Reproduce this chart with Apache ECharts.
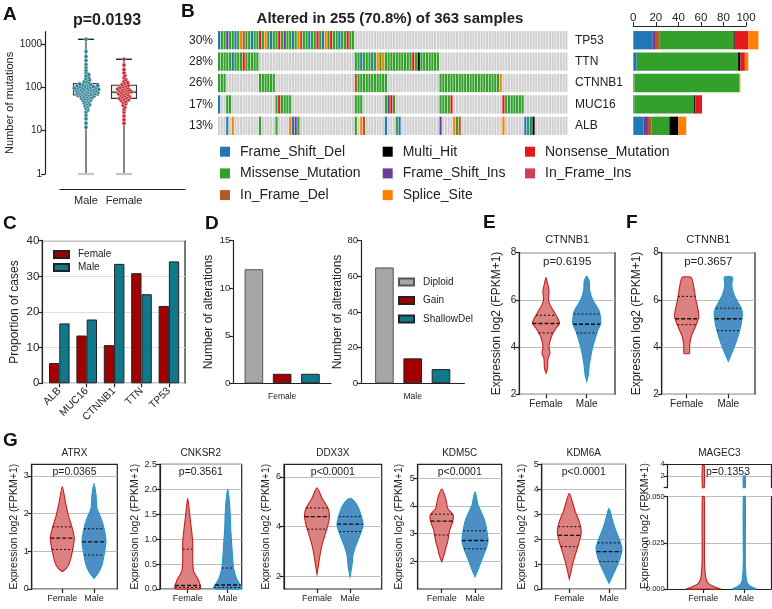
<!DOCTYPE html>
<html><head><meta charset="utf-8">
<script src="https://cdn.jsdelivr.net/npm/echarts@6/dist/echarts.min.js"></script>
<style>html,body{margin:0;padding:0;background:#fff}#c{width:772px;height:609px}</style>
</head><body><div id="c"></div>
<script>
// ================= DATA =================
// Panel A – number of mutations per sample
const sexA = ['Male', 'Female'];
const mutMale = [12, 15, 19, 23, 27, 30, 33, 36, 38, 40, 42, 44, 46, 48, 50, 51, 53, 55, 56, 58, 59, 60, 62, 63, 64, 65, 67, 68, 69, 70, 71, 72, 74, 75, 76, 77, 78, 80, 81, 82, 83, 84, 85, 86, 88, 89, 90, 91, 92, 94, 95, 96, 98, 99, 100, 102, 104, 105, 107, 109, 111, 113, 115, 118, 121, 125, 130, 136, 142, 150, 160, 172, 185, 200, 220, 250, 290, 340, 420, 520, 680, 1300];
const mutFemale = [15, 18, 22, 27, 31, 35, 39, 42, 45, 48, 50, 52, 54, 56, 58, 60, 62, 64, 66, 68, 70, 72, 74, 76, 78, 80, 82, 84, 86, 88, 90, 92, 95, 98, 101, 104, 108, 112, 117, 123, 130, 140, 152, 168, 190, 220, 260, 330, 450];
const boxMale = [1, 67, 90, 124, 1300];     // min, q1, median, q3, max
const boxFemale = [1, 56, 78, 113, 450];
const logTicksA = [1, 10, 100, 1000];
const pValueA = 'p=0.0193';

// Panel B – oncoplot
const oncoTitle = 'Altered in 255 (70.8%) of 363 samples';
const genesB = ['TP53', 'TTN', 'CTNNB1', 'MUC16', 'ALB'];
const pctB = ['30%', '28%', '26%', '17%', '13%'];
const nColumns = 128;
const mutTypes = ['Frame_Shift_Del', 'Frame_Shift_Ins', 'In_Frame_Del', 'Missense_Mutation', 'Multi_Hit', 'Nonsense_Mutation', 'In_Frame_Ins', 'Splice_Site'];
// altered sample columns (runs, missense by default)
const tp53Runs = [[0, 49]];
const ttnRuns = [[0, 14], [50, 80]];
const ctnnb1Runs = [[0, 2], [15, 20], [50, 61], [81, 103]];
const muc16Runs = [[0, 0], [3, 4], [21, 26], [50, 52], [61, 64], [81, 85], [104, 111]];
const albRuns = [[3, 3], [5, 5], [15, 15], [21, 21], [26, 29], [50, 50], [52, 53], [61, 61], [65, 66], [81, 81], [86, 88], [104, 104], [112, 115]];
// non-missense calls
const tp53Calls = [[0, 'Frame_Shift_Del'], [3, 'Frame_Shift_Ins'], [6, 'Frame_Shift_Del'], [8, 'Splice_Site'], [9, 'In_Frame_Del'], [12, 'Frame_Shift_Del'], [15, 'Nonsense_Mutation'], [17, 'Splice_Site'], [19, 'Frame_Shift_Del'], [22, 'Nonsense_Mutation'], [24, 'Frame_Shift_Ins'], [27, 'Frame_Shift_Del'], [29, 'Splice_Site'], [30, 'In_Frame_Del'], [33, 'Frame_Shift_Del'], [36, 'Nonsense_Mutation'], [38, 'Frame_Shift_Del'], [39, 'Splice_Site'], [41, 'Nonsense_Mutation'], [44, 'Frame_Shift_Del'], [47, 'Nonsense_Mutation']];
const ttnCalls = [[5, 'Frame_Shift_Del'], [9, 'Nonsense_Mutation'], [52, 'Frame_Shift_Del'], [56, 'Frame_Shift_Del'], [58, 'Splice_Site'], [60, 'Splice_Site'], [71, 'Nonsense_Mutation'], [73, 'Multi_Hit']];
const ctnnb1Calls = [[50, 'In_Frame_Del'], [103, 'Splice_Site']];
const muc16Calls = [[0, 'Frame_Shift_Del'], [22, 'Nonsense_Mutation'], [62, 'Frame_Shift_Ins'], [63, 'Nonsense_Mutation'], [85, 'Nonsense_Mutation'], [104, 'Nonsense_Mutation']];
const albCalls = [[3, 'Frame_Shift_Del'], [5, 'Splice_Site'], [26, 'Splice_Site'], [27, 'Frame_Shift_Del'], [28, 'Frame_Shift_Ins'], [52, 'Splice_Site'], [53, 'In_Frame_Del'], [61, 'Frame_Shift_Del'], [66, 'Frame_Shift_Del'], [81, 'Frame_Shift_Ins'], [86, 'Splice_Site'], [88, 'In_Frame_Del'], [104, 'Splice_Site'], [112, 'Frame_Shift_Del'], [114, 'Frame_Shift_Del'], [115, 'Multi_Hit']];
// per-gene counts by type (TP53, TTN, CTNNB1, MUC16, ALB)
const nFrameShiftDel = [17, 3, 0, 1, 9];
const nFrameShiftIns = [3, 0, 0, 0, 4];
const nInFrameDel = [3, 0, 1, 0, 3];
const nMissense = [66, 90, 93, 53, 16];
const nMultiHit = [1, 2, 0, 1, 8];
const nNonsense = [12, 4, 0, 6, 0];
const nInFrameIns = [0, 0, 0, 0, 0];
const nSplice = [9, 3, 1, 0, 7];

// Panel C
const genesC = ['ALB', 'MUC16', 'CTNNB1', 'TTN', 'TP53'];
const propFemale = [5.7, 13.4, 10.7, 30.9, 21.7];
const propMale = [16.8, 17.9, 33.5, 25.0, 34.2];

// Panel D
const cnvTypes = ['Diploid', 'Gain', 'ShallowDel'];
const cnvFemale = [12, 1, 1];
const cnvMale = [65, 14, 8];

// Panels E, F, G – violin profiles [value, relative density]; quartiles [q1, median, q3]
const violinGroups = ['Female', 'Male'];
const ctnnbE_F = [[2.9, 0], [3.1, 1.5], [3.5, 2], [3.75, 4], [4.0, 3], [4.25, 4], [4.5, 6], [4.8, 10], [5.0, 13.5], [5.2, 12], [5.5, 8], [5.8, 4], [6.0, 2.5], [6.4, 3], [6.7, 1.5], [6.95, 0]];
const ctnnbE_M = [[2.55, 0], [2.8, 1.5], [3.2, 2.5], [3.6, 4], [4.0, 6], [4.3, 8], [4.7, 11], [5.0, 14], [5.45, 13], [5.65, 11], [6.0, 6], [6.4, 3], [6.8, 2.5], [7.0, 0]];
const qE_F = [4.6, 5.0, 5.35], qE_M = [4.6, 4.97, 5.4];
const ctnnbF_F = [[3.72, 0], [3.72, 2.5], [3.8, 3], [4.1, 3], [4.45, 4.5], [4.8, 8], [5.25, 12], [5.5, 11.7], [6.0, 9.2], [6.5, 7.3], [6.95, 4.7], [6.98, 0]];
const ctnnbF_M = [[3.4, 0], [3.7, 3], [4.0, 6], [4.5, 10], [5.0, 13], [5.5, 14], [5.8, 11], [6.2, 6], [6.6, 3.5], [6.95, 4], [7.0, 0]];
const qF_F = [4.95, 5.2, 6.15], qF_M = [4.7, 5.2, 5.65];
const atrx_F = [[0.46, 0], [0.55, 4], [0.68, 7], [0.99, 10], [1.35, 12], [1.61, 10], [1.96, 6], [2.32, 3], [2.72, 0]];
const atrx_M = [[0.28, 0], [0.46, 5], [0.64, 8], [0.9, 10], [1.26, 12], [1.61, 10], [1.88, 7], [2.14, 3], [2.5, 2], [2.8, 0]];
const qAtrx_F = [1.05, 1.35, 1.65], qAtrx_M = [0.9, 1.25, 1.6];
const cnksr2_F = [[0, 0], [0, 12], [0.05, 13], [0.11, 12], [0.21, 10], [0.35, 6], [0.55, 5], [0.75, 5], [0.95, 5], [1.15, 4], [1.49, 2], [1.82, 0]];
const cnksr2_M = [[0, 0], [0, 12], [0.04, 14], [0.1, 12], [0.2, 9], [0.4, 6], [0.6, 5], [0.9, 4], [1.2, 3], [1.5, 2.5], [1.8, 1.5], [2.0, 0]];
const qCnksr2_F = [0.03, 0.07, 0.8], qCnksr2_M = [0.03, 0.08, 0.42];
const ddx3x_F = [[2.09, 0], [2.46, 1.5], [2.86, 3], [3.26, 5], [3.67, 8], [4.07, 11], [4.47, 12.5], [4.74, 11], [5.14, 5], [5.56, 0]];
const ddx3x_M = [[1.99, 0], [2.46, 2], [2.86, 3], [3.26, 6], [3.67, 10], [4.07, 13], [4.47, 11], [4.87, 7], [5.14, 0]];
const qDdx3x_F = [3.9, 4.4, 4.75], qDdx3x_M = [3.8, 4.1, 4.4];
const kdm5c_F = [[1.99, 0], [2.23, 2.5], [2.47, 4], [2.71, 6], [3.13, 8], [3.43, 11], [3.67, 11.5], [3.91, 6], [4.27, 4], [4.61, 0]];
const kdm5c_M = [[1.44, 0], [1.69, 3], [1.99, 6], [2.35, 10], [2.71, 13], [3.07, 12], [3.43, 10], [3.79, 6], [4.03, 3], [4.51, 0]];
const qKdm5c_F = [2.95, 3.45, 3.7], qKdm5c_M = [2.45, 2.75, 3.1];
const kdm6a_F = [[0.4, 0], [0.76, 2], [1.1, 4], [1.5, 7], [1.9, 10], [2.3, 12], [2.7, 10], [3.1, 6], [3.5, 3], [3.84, 0]];
const kdm6a_M = [[0.23, 0], [0.49, 3], [0.83, 7], [1.23, 11], [1.63, 13], [2.03, 10], [2.43, 6], [2.83, 3], [3.24, 0]];
const qKdm6a_F = [1.7, 2.15, 2.5], qKdm6a_M = [1.1, 1.5, 1.85];
const magec3Low_F = [[0, 0], [0, 17], [0.001, 12], [0.002, 8], [0.003, 5], [0.005, 3], [0.008, 2], [0.015, 1.2], [0.05, 1]];
const magec3Low_M = [[0, 0], [0, 12], [0.001, 8], [0.002, 5], [0.004, 2.5], [0.008, 1.5], [0.015, 1], [0.05, 1]];
const magec3Up_F = [[0, 0], [0, 1], [3.8, 1], [3.8, 0]];
const magec3Up_M = [[0, 0], [0, 1], [2.0, 1], [2.0, 0]];
const pVals = {E: 'p=0.6195', F: 'p=0.3657', ATRX: 'p=0.0365', CNKSR2: 'p=0.3561', DDX3X: 'p<0.0001', KDM5C: 'p<0.0001', KDM6A: 'p<0.0001', MAGEC3: 'p=0.1353'};
const yNameExpr = 'Expression log2 (FPKM+1)';

// ================= STYLE =================
const FONT = '"Liberation Sans", Arial, Helvetica, sans-serif';
const INK = '#222';
const mutColors = ['#1F78B4', '#6A3D9A', '#B15928', '#33A02C', '#000000', '#E31A1C', '#D53E4F', '#FF7F00'];
const ONCO_GREY = '#d0d0d0';
const FEMALE_BAR = '#a00000', MALE_BAR = '#11788c';
const FEMALE_FILL = '#dc8080', FEMALE_LINE = '#c81e1e';
const MALE_FILL = '#4d8fc4', MALE_LINE = '#1b9bc4';
const DENSITY_PX = 1;

// ================= BUILD =================
const grid = [], xAxis = [], yAxis = [], series = [], graphic = [], legend = [];
const G = o => { grid.push(Object.assign({outerBoundsMode: 'none', containLabel: false}, o)); return grid.length - 1; };
const X = o => { xAxis.push(o); return xAxis.length - 1; };
const Y = o => { yAxis.push(o); return yAxis.length - 1; };
function txt(x, y, s, st, extra) {
  graphic.push(Object.assign({type: 'text', x: x, y: y, silent: true, z: 100,
    style: Object.assign({text: s, fontFamily: FONT, fontSize: 11, fill: INK, align: 'center', verticalAlign: 'middle'}, st)}, extra || {}));
}
const lineSt = {color: INK, width: 1.2};

// panel letters
[['A', 3, 15], ['B', 181, 12], ['C', 3, 224], ['D', 205, 224], ['E', 483, 223], ['F', 626, 223], ['G', 3, 441]]
  .forEach(([l, x, y]) => txt(x, y, l, {fontSize: 19, fontWeight: 'bold', align: 'left', fill: '#111'}));

// ---------- Panel A ----------
const gA = G({left: 67, top: 31.7, width: 76, height: 142.3});
const xA = X({type: 'category', gridIndex: gA, data: sexA, offset: 15, axisLine: {show: false}, axisTick: {show: false},
  axisLabel: {margin: 6, fontSize: 11, color: INK, interval: 0}});
const yA = Y({type: 'log', gridIndex: gA, min: 1, max: 1950, logBase: 10, offset: 22,
  axisLine: {show: true, lineStyle: lineSt}, axisTick: {show: true, length: 4, customValues: logTicksA, lineStyle: lineSt},
  axisLabel: {customValues: logTicksA, fontSize: 10, margin: 3, color: INK, formatter: v => String(v)}, splitLine: {show: false},
  name: 'Number of mutations', nameLocation: 'middle', nameGap: 24, nameTextStyle: {fontSize: 11, color: INK}});
const gAline = G({left: 60, top: 31.7, width: 125, height: 142.3});
X({type: 'value', gridIndex: gAline, min: 0, max: 1, offset: 15, axisLine: {show: true, onZero: false, lineStyle: lineSt},
  axisTick: {show: false}, axisLabel: {show: false}, splitLine: {show: false}});
Y({type: 'value', gridIndex: gAline, show: false});
txt(107, 21, pValueA, {fontSize: 16, fontWeight: 'bold'});

function renderBox(params, api) {
  const cat = api.value(0);
  const v = [1, 2, 3, 4, 5].map(i => api.value(i));
  const p = v.map(val => api.coord([cat, val]));
  const cx = p[0][0], bw = 12.5, cw = 8;
  return {type: 'group', children: [
    {type: 'line', shape: {x1: cx, y1: p[0][1], x2: cx, y2: p[4][1]}, style: {stroke: '#333', lineWidth: 1.2}},
    {type: 'line', shape: {x1: cx - cw, y1: p[4][1], x2: cx + cw, y2: p[4][1]}, style: {stroke: '#222', lineWidth: 1.4}},
    {type: 'line', shape: {x1: cx - cw, y1: p[0][1], x2: cx + cw, y2: p[0][1]}, style: {stroke: '#c4c4c4', lineWidth: 2.2}},
    {type: 'rect', shape: {x: cx - bw, y: p[3][1], width: 2 * bw, height: p[1][1] - p[3][1]}, style: {fill: '#f4f4f4', stroke: '#333', lineWidth: 1.1}},
    {type: 'line', shape: {x1: cx - bw, y1: p[2][1], x2: cx + bw, y2: p[2][1]}, style: {stroke: '#333', lineWidth: 1.3}}
  ]};
}
series.push({type: 'custom', name: 'boxA', xAxisIndex: xA, yAxisIndex: yA, silent: true, z: 2,
  data: [[0].concat(boxMale), [1].concat(boxFemale)], renderItem: renderBox});

function swarmRenderer(values, fill, stroke) {
  let cache = null;
  const D = 2.35, STEP = 0.9, R = 2.0;
  return function (params, api) {
    if (params.dataIndex === 0 || !cache) {
      const cat = api.value(0);
      const order = values.map((v, i) => i).sort((a, b) => values[a] - values[b]);
      const placed = [];
      cache = new Array(values.length);
      order.forEach(i => {
        const p = api.coord([cat, values[i]]);
        let k = 0, dx = 0;
        while (k < 200) {
          const cand = k === 0 ? 0 : (k % 2 ? 1 : -1) * Math.ceil(k / 2) * STEP;
          const ok = placed.every(q => (q[0] - (p[0] + cand)) ** 2 + (q[1] - p[1]) ** 2 >= D * D);
          if (ok) { dx = cand; break; }
          k++;
        }
        cache[i] = [p[0] + dx, p[1]];
        placed.push(cache[i]);
      });
    }
    const pt = cache[params.dataIndex];
    return {type: 'circle', shape: {cx: pt[0], cy: pt[1], r: R}, style: {fill: fill, stroke: stroke, lineWidth: 0.6}};
  };
}
series.push({type: 'custom', name: 'swarmMale', xAxisIndex: xA, yAxisIndex: yA, silent: true, z: 3,
  data: mutMale.map(v => [0, v]), renderItem: swarmRenderer(mutMale, '#2a7f93', 'rgba(210,225,230,0.9)')});
series.push({type: 'custom', name: 'swarmFemale', xAxisIndex: xA, yAxisIndex: yA, silent: true, z: 3,
  data: mutFemale.map(v => [1, v]), renderItem: swarmRenderer(mutFemale, '#c4262e', 'rgba(240,210,210,0.9)')});

// ---------- Panel B ----------
txt(390, 19, oncoTitle, {fontSize: 15, fontWeight: 'bold'});
const gOnco = G({left: 218, top: 29.5, width: 350, height: 107});
const xOnco = X({type: 'value', gridIndex: gOnco, min: 0, max: nColumns, show: false});
const yOnco = Y({type: 'category', gridIndex: gOnco, data: genesB, inverse: true, position: 'right',
  axisLine: {show: false}, axisTick: {show: false}, axisLabel: {margin: 7, fontSize: 12, color: INK, interval: 0}});
Y({type: 'category', gridIndex: gOnco, data: pctB, inverse: true, position: 'left',
  axisLine: {show: false}, axisTick: {show: false}, axisLabel: {margin: 5, fontSize: 12, color: INK, interval: 0}});
const runsByGene = [tp53Runs, ttnRuns, ctnnb1Runs, muc16Runs, albRuns];
const callsByGene = [tp53Calls, ttnCalls, ctnnb1Calls, muc16Calls, albCalls];
const oncoCells = [];
genesB.forEach((g, gi) => {
  const state = new Array(nColumns).fill(-1);
  runsByGene[gi].forEach(([a, b]) => { for (let c = a; c <= b; c++) state[c] = mutTypes.indexOf('Missense_Mutation'); });
  callsByGene[gi].forEach(([c, t]) => { state[c] = mutTypes.indexOf(t); });
  state.forEach((t, c) => oncoCells.push([c, gi, t]));
});
series.push({type: 'custom', name: 'oncoplot', xAxisIndex: xOnco, yAxisIndex: yOnco, silent: true, data: oncoCells,
  renderItem: (params, api) => {
    const col = api.value(0), row = api.value(1), t = api.value(2);
    const p0 = api.coord([col, row]), p1 = api.coord([col + 1, row]);
    const ch = api.size([0, 1])[1] - 3.1;
    return {type: 'rect', shape: {x: p0[0], y: p0[1] - ch / 2, width: Math.max(p1[0] - p0[0] - 0.55, 0.5), height: ch},
      style: {fill: t < 0 ? ONCO_GREY : mutColors[t]}};
  }});
const gBar = G({left: 633.3, top: 29.5, width: 112.7, height: 107});
const xBar = X({type: 'value', gridIndex: gBar, min: 0, max: 100, interval: 20, position: 'top', offset: 3.5,
  axisLine: {show: true, lineStyle: {color: INK, width: 1}}, axisTick: {show: true, length: 4, lineStyle: {color: INK}},
  axisLabel: {fontSize: 11.5, margin: 2, color: INK}, splitLine: {show: false}});
const yBar = Y({type: 'category', gridIndex: gBar, data: genesB, inverse: true, show: false});
const countsByType = [nFrameShiftDel, nFrameShiftIns, nInFrameDel, nMissense, nMultiHit, nNonsense, nInFrameIns, nSplice];
mutTypes.forEach((t, i) => series.push({type: 'bar', name: t, stack: 'muts', xAxisIndex: xBar, yAxisIndex: yBar,
  data: countsByType[i], barWidth: 18.3, clip: false, silent: true, itemStyle: {color: mutColors[i]}}));
const legBase = {orient: 'vertical', itemWidth: 10, itemHeight: 10, itemGap: 7.7, icon: 'rect', selectedMode: false, padding: 0,
  textStyle: {fontSize: 14, color: INK, fontFamily: FONT, padding: [0, 0, 0, 5]}};
legend.push(Object.assign({}, legBase, {left: 220, top: 144.7, data: ['Frame_Shift_Del', 'Missense_Mutation', 'In_Frame_Del']}));
legend.push(Object.assign({}, legBase, {left: 382.7, top: 144.7, data: ['Multi_Hit', 'Frame_Shift_Ins', 'Splice_Site']}));
legend.push(Object.assign({}, legBase, {left: 525, top: 144.7, data: ['Nonsense_Mutation', 'In_Frame_Ins']}));

// ---------- Panel C ----------
const gCbox = G({left: 42.3, top: 240.7, width: 142.7, height: 142.6, show: true, borderColor: INK, borderWidth: 1.2, backgroundColor: 'transparent'});
X({type: 'value', gridIndex: gCbox, show: false});
Y({type: 'value', gridIndex: gCbox, min: 0, max: 40, interval: 10, axisLine: {show: true, lineStyle: lineSt},
  axisTick: {show: true, length: 4, lineStyle: lineSt}, axisLabel: {fontSize: 11.5, margin: 3, color: INK},
  splitLine: {show: true, lineStyle: {color: '#dedede'}},
  name: 'Proportion of cases', nameLocation: 'middle', nameGap: 22, nameTextStyle: {fontSize: 12, color: INK}});
const gC = G({left: 45.6, top: 240.7, width: 137, height: 142.6});
const xC = X({type: 'category', gridIndex: gC, data: genesC, axisLine: {show: false},
  axisTick: {show: true, alignWithLabel: true, length: 4, lineStyle: lineSt},
  axisLabel: {rotate: 45, fontSize: 10.5, margin: 6, color: INK, interval: 0}});
const yC = Y({type: 'value', gridIndex: gC, min: 0, max: 40, show: false});
series.push({type: 'bar', name: 'Female', xAxisIndex: xC, yAxisIndex: yC, data: propFemale, barWidth: 10.3, barGap: '0%', silent: true,
  itemStyle: {color: FEMALE_BAR, borderColor: '#222', borderWidth: 1}});
series.push({type: 'bar', name: 'Male', xAxisIndex: xC, yAxisIndex: yC, data: propMale, barWidth: 10.3, barGap: '0%', silent: true,
  itemStyle: {color: MALE_BAR, borderColor: '#222', borderWidth: 1}});
legend.push({orient: 'vertical', left: 53, top: 249.5, data: ['Female', 'Male'], itemWidth: 15, itemHeight: 7, itemGap: 3, icon: 'rect',
  selectedMode: false, padding: 0, textStyle: {fontSize: 10, color: INK, fontFamily: FONT, padding: [0, 0, 0, 4]}});

// ---------- Panel D ----------
const cnvColors = ['#a6a6a6', FEMALE_BAR, MALE_BAR];
const cnvBorders = ['#555', '#222', '#222'];
function dPanel(left, width, cat, vals, yMax, yInt, nameGap) {
  const g = G({left: left, top: 240.7, width: width, height: 142.6});
  const x = X({type: 'category', gridIndex: g, data: [cat], axisLine: {show: true, lineStyle: lineSt}, axisTick: {show: false},
    axisLabel: {fontSize: 8.5, margin: 9, color: INK}});
  const y = Y({type: 'value', gridIndex: g, min: 0, max: yMax, interval: yInt, axisLine: {show: true, lineStyle: lineSt},
    axisTick: {show: true, length: 4, lineStyle: lineSt}, axisLabel: {fontSize: 9.5, margin: 3, color: INK}, splitLine: {show: false},
    name: 'Number of alterations', nameLocation: 'middle', nameGap: nameGap, nameTextStyle: {fontSize: 12, color: INK}});
  cnvTypes.forEach((t, i) => series.push({type: 'bar', name: t, xAxisIndex: x, yAxisIndex: y, data: [vals[i]], barWidth: 18.6, barGap: '52%',
    silent: true, itemStyle: {color: cnvColors[i], borderColor: cnvBorders[i], borderWidth: 1}}));
}
dPanel(233.3, 97.7, 'Female', cnvFemale, 15, 5, 19);
dPanel(361, 103.4, 'Male', cnvMale, 80, 20, 16.5);
legend.push({orient: 'vertical', left: 398, top: 277, data: cnvTypes, itemWidth: 15, itemHeight: 7, itemGap: 8.5, icon: 'rect',
  selectedMode: false, padding: 0, textStyle: {fontSize: 10, color: INK, fontFamily: FONT, padding: [0, 0, 0, 4]}});

// ---------- Violins ----------
function densityAt(prof, v) {
  for (let i = 1; i < prof.length; i++) {
    const a = prof[i - 1], b = prof[i];
    if (v >= a[0] && v <= b[0]) { const t = b[0] === a[0] ? 1 : (v - a[0]) / (b[0] - a[0]); return a[1] + t * (b[1] - a[1]); }
  }
  return 0;
}
function violinSeries(xi, yi, cat, prof, q, fill, stroke) {
  return {type: 'custom', xAxisIndex: xi, yAxisIndex: yi, data: [[cat]], silent: true, z: 3,
    renderItem: (params, api) => {
      const c = api.value(0);
      const right = prof.map(([v, d]) => { const p = api.coord([c, v]); return [p[0] + d * DENSITY_PX, p[1]]; });
      const left = prof.slice().reverse().map(([v, d]) => { const p = api.coord([c, v]); return [p[0] - d * DENSITY_PX, p[1]]; });
      const pts = [];
      right.concat(left).forEach(p => { const l = pts[pts.length - 1]; if (!l || Math.abs(l[0] - p[0]) > 0.01 || Math.abs(l[1] - p[1]) > 0.01) pts.push(p); });
      const children = [{type: 'polygon', shape: {points: pts, smooth: 0.25}, style: {fill: fill, stroke: stroke, lineWidth: 1.1}}];
      (q || []).forEach((qv, i) => {
        const d = densityAt(prof, qv) * DENSITY_PX; const p = api.coord([c, qv]);
        children.push({type: 'line', shape: {x1: p[0] - d, y1: p[1], x2: p[0] + d, y2: p[1]},
          style: {stroke: '#111', lineWidth: i === 1 ? 1.4 : 1, lineDash: i === 1 ? [4, 2] : [2, 2]}});
      });
      return {type: 'group', children: children};
    }};
}
function violinPanel(o) {
  const gb = G({left: o.l, top: o.t, width: o.r - o.l, height: o.b - o.t, show: true, borderColor: INK, borderWidth: 1.2, backgroundColor: 'transparent'});
  X({type: 'value', gridIndex: gb, show: false});
  Y({type: 'value', gridIndex: gb, min: o.min, max: o.max, axisLine: {show: true, lineStyle: lineSt},
    axisTick: {show: true, length: 4, customValues: o.ticks, lineStyle: lineSt},
    axisLabel: {customValues: o.ticks, formatter: o.fmt || (v => String(v)), fontSize: o.tickFs, margin: 3, color: INK},
    splitLine: {show: true, lineStyle: {color: '#bdbdbd'}},
    name: yNameExpr, nameLocation: 'middle', nameGap: o.nameGap, nameTextStyle: {fontSize: o.nameFs, color: INK}});
  const pitch = o.c1 - o.c0;
  const gd = G({left: o.c0 - pitch / 2, top: o.t, width: 2 * pitch, height: o.b - o.t});
  const xd = X({type: 'category', gridIndex: gd, data: violinGroups, axisLine: {show: false},
    axisTick: {show: true, alignWithLabel: true, length: 4, lineStyle: lineSt},
    axisLabel: {fontSize: o.catFs, margin: 5, color: INK, interval: 0}});
  const yd = Y({type: 'value', gridIndex: gd, min: o.min, max: o.max, show: false});
  series.push(violinSeries(xd, yd, 0, o.profF, o.qF, FEMALE_FILL, FEMALE_LINE));
  series.push(violinSeries(xd, yd, 1, o.profM, o.qM, MALE_FILL, MALE_LINE));
  txt((o.l + o.r) / 2, o.titleY, o.title, {fontSize: o.titleFs});
  txt((o.l + o.r) / 2, o.pY, o.p, {fontSize: o.pFs});
}
const EF = {t: 252.7, b: 394.3, min: 2, max: 8, ticks: [2, 4, 6, 8], tickFs: 10, catFs: 10, nameFs: 12, titleFs: 11, pFs: 11.5, titleY: 240, pY: 261.7};
violinPanel(Object.assign({}, EF, {l: 519.3, r: 615, c0: 546, c1: 586.7, profF: ctnnbE_F, profM: ctnnbE_M, qF: qE_F, qM: qE_M, title: 'CTNNB1', p: pVals.E, nameGap: 17}));
violinPanel(Object.assign({}, EF, {l: 661.7, r: 755, c0: 686.7, c1: 728.3, profF: ctnnbF_F, profM: ctnnbF_M, qF: qF_F, qM: qF_M, title: 'CTNNB1', p: pVals.F, nameGap: 19}));
const GG = {t: 464.3, b: 589, tickFs: 9, catFs: 9, nameFs: 10.5, titleFs: 10, pFs: 10.5, titleY: 453.3, pY: 472.3};
violinPanel(Object.assign({}, GG, {l: 31.7, r: 117.3, c0: 62.3, c1: 94, min: 0, max: 3.31, ticks: [0, 1, 2, 3], profF: atrx_F, profM: atrx_M, qF: qAtrx_F, qM: qAtrx_M, title: 'ATRX', p: pVals.ATRX, nameGap: 12}));
violinPanel(Object.assign({}, GG, {l: 160, r: 241.7, c0: 187.7, c1: 227.7, min: 0, max: 2.5, ticks: [0, 0.5, 1, 1.5, 2, 2.5], fmt: v => v.toFixed(1), profF: cnksr2_F, profM: cnksr2_M, qF: qCnksr2_F, qM: qCnksr2_M, title: 'CNKSR2', p: pVals.CNKSR2, nameGap: 14}));
violinPanel(Object.assign({}, GG, {l: 284, r: 381.7, c0: 317, c1: 350, min: 1.5, max: 6.5, ticks: [2, 4, 6], profF: ddx3x_F, profM: ddx3x_M, qF: qDdx3x_F, qM: qDdx3x_M, title: 'DDX3X', p: pVals.DDX3X, nameGap: 8}));
violinPanel(Object.assign({}, GG, {l: 417.7, r: 501.7, c0: 441.7, c1: 475, min: 1, max: 5.5, ticks: [2, 3, 4, 5], profF: kdm5c_F, profM: kdm5c_M, qF: qKdm5c_F, qM: qKdm5c_M, title: 'KDM5C', p: pVals.KDM5C, nameGap: 13}));
violinPanel(Object.assign({}, GG, {l: 541.7, r: 625.7, c0: 569.3, c1: 609, min: 0, max: 5, ticks: [0, 1, 2, 3, 4, 5], profF: kdm6a_F, profM: kdm6a_M, qF: qKdm6a_F, qM: qKdm6a_M, title: 'KDM6A', p: pVals.KDM6A, nameGap: 14}));

// MAGEC3 – broken axis
(function () {
  const mL = 667.7, mR = 771, c0 = 703.3, c1 = 744.3, pitch = c1 - c0;
  const segs = [
    {top: 464.3, h: 23.4, min: 0, max: 4, ticks: [0, 2, 4], labels: [2, 4], fmt: v => String(v), topLine: true, profF: magec3Up_F, profM: magec3Up_M, cats: false},
    {top: 496.7, h: 92.3, min: 0, max: 0.05, ticks: [0, 0.025, 0.05], labels: [0, 0.025, 0.05], fmt: v => v.toFixed(3), topLine: false, profF: magec3Low_F, profM: magec3Low_M, cats: true}
  ];
  segs.forEach(s => {
    const g = G({left: mL, top: s.top, width: mR - mL, height: s.h});
    X({type: 'value', gridIndex: g, position: s.topLine ? 'top' : 'bottom', axisLine: {show: true, onZero: false, lineStyle: lineSt},
      axisTick: {show: false}, axisLabel: {show: false}, splitLine: {show: false}});
    Y({type: 'value', gridIndex: g, min: s.min, max: s.max, axisLine: {show: true, lineStyle: lineSt},
      axisTick: {show: true, length: 4, customValues: s.ticks, lineStyle: lineSt},
      axisLabel: {customValues: s.labels, formatter: s.fmt, fontSize: 7.5, margin: 3, color: INK},
      splitLine: {show: true, showMinLine: false, lineStyle: {color: '#bdbdbd'}}});
    Y({type: 'value', gridIndex: g, min: s.min, max: s.max, position: 'right', axisLine: {show: true, lineStyle: lineSt},
      axisTick: {show: false}, axisLabel: {show: false}, splitLine: {show: false}});
    const gd = G({left: c0 - pitch / 2, top: s.top, width: 2 * pitch, height: s.h});
    const xd = X({type: 'category', gridIndex: gd, data: violinGroups, show: s.cats, axisLine: {show: false},
      axisTick: {show: true, alignWithLabel: true, length: 4, lineStyle: lineSt}, axisLabel: {fontSize: 9, margin: 5, color: INK, interval: 0}});
    const yd = Y({type: 'value', gridIndex: gd, min: s.min, max: s.max, show: false});
    series.push(violinSeries(xd, yd, 0, s.profF, null, FEMALE_FILL, FEMALE_LINE));
    series.push(violinSeries(xd, yd, 1, s.profM, null, MALE_FILL, MALE_LINE));
  });
  txt((mL + mR) / 2, 453.3, 'MAGEC3', {fontSize: 10});
  txt(728, 472.3, pVals.MAGEC3, {fontSize: 10.5});
  txt(645, 526, yNameExpr, {fontSize: 10.5}, {rotation: Math.PI / 2});
})();

const chart = echarts.init(document.getElementById('c'), null, {renderer: 'canvas', width: 772, height: 609});
chart.setOption({
  animation: false,
  backgroundColor: '#fff',
  textStyle: {fontFamily: FONT, color: INK},
  grid: grid, xAxis: xAxis, yAxis: yAxis, series: series, legend: legend, graphic: graphic
});
</script></body></html>
